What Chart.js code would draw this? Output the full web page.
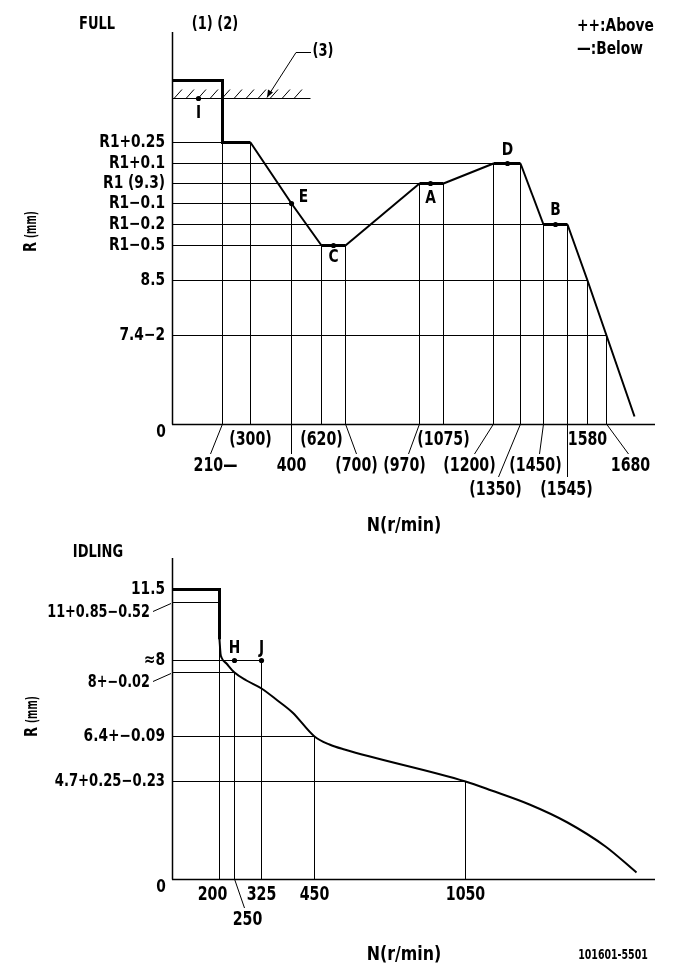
<!DOCTYPE html>
<html><head><meta charset="utf-8">
<script src="https://cdn.jsdelivr.net/npm/chart.js@4.4.0/dist/chart.umd.min.js"></script>
<style>
html,body{margin:0;padding:0;background:#fff;width:681px;height:979px;overflow:hidden}
canvas{position:absolute;left:0;top:0}
</style></head>
<body>
<canvas id="full" width="681" height="979"></canvas>
<canvas id="idle" width="681" height="979"></canvas>
<script>
// ---------------- DATA: FULL load ----------------
const FULL_N = [0, 210, 210, 300, 400, 620, 700, 970, 1075, 1200, 1350, 1450, 1545, 1580, 1680, 1750];
const FULL_R = [10.5, 10.5, 9.55, 9.55, 9.2, 8.8, 8.8, 9.3, 9.3, 9.4, 9.4, 9.1, 9.1, 8.5, 7.4, 0.6];
const FULL_X_TICKS = [210, 300, 400, 620, 700, 970, 1075, 1200, 1350, 1450, 1545, 1580, 1680];
const FULL_X_LABELS = ['210—', '(300)', '400', '(620)', '(700)', '(970)', '(1075)', '(1200)', '(1350)', '(1450)', '(1545)', '1580', '1680'];
const FULL_Y_TICKS = [9.55, 9.4, 9.3, 9.2, 9.1, 8.8, 8.5, 7.4];
const FULL_Y_LABELS = ['R1+0.25', 'R1+0.1', 'R1 (9.3)', 'R1−0.1', 'R1−0.2', 'R1−0.5', '8.5', '7.4−2'];
const FULL_LIMIT_R = 10.2;
const FULL_LIMIT_N = [0, 540];
const FULL_PT_NAMES = ['I', 'E', 'C', 'A', 'D', 'B'];
const FULL_PT_N = [110, 400, 660, 1020, 1278, 1499];
const FULL_PT_R = [10.2, 9.2, 8.8, 9.3, 9.4, 9.1];

// ---------------- DATA: IDLING ----------------
const IDLE_STEP_N = [0, 200, 200.5];
const IDLE_STEP_R = [11.5, 11.5, 9.2];
const IDLE_N = [200.5, 203, 208, 223, 250, 285, 325, 365, 400, 450, 510, 570, 1050, 1120, 1220, 1320, 1420, 1500];
const IDLE_R = [9.2, 8.5, 8.3, 8.15, 8.0, 7.8, 7.6, 7.3, 7.0, 6.4, 6.1, 5.9, 4.7, 4.25, 3.55, 2.7, 1.55, 0.3];
const IDLE_X_TICKS = [200, 250, 325, 450, 1050];
const IDLE_X_LABELS = ['200', '250', '325', '450', '1050'];
const IDLE_Y_TICKS = [11.5, 11, 8.2, 8.0, 6.4, 4.7];
const IDLE_Y_LABELS = ['11.5', '11+0.85−0.52', '≈8', '8+−0.02', '6.4+−0.09', '4.7+0.25−0.23'];
const IDLE_GUIDE_R = [11, 8.2, 8.0, 6.4, 4.7];
const IDLE_GUIDE_N = [200, 325, 250, 450, 1050];
const IDLE_PT_NAMES = ['H', 'J'];
const IDLE_PT_N = [250, 325];
const IDLE_PT_R = [8.2, 8.2];

// ---------------- LAYOUT (schematic axis stations, px along axis) ----------------
const KNOTS = {
  fullX: {span: 483, pts: [[0,0],[210,50],[300,78],[400,119],[620,149],[700,173],[970,247],[1075,271.5],[1200,321],[1350,348],[1450,371],[1545,395],[1580,415],[1680,434],[1800,483]]},
  fullY: {span: 392, pts: [[0,0],[7.4,89],[8.5,144],[8.8,178.3],[9.1,199.7],[9.2,220.7],[9.3,240.7],[9.4,260.7],[9.55,281.3],[10.2,325.7],[10.5,343.3],[11.3,392]]},
  idleX: {span: 483, pts: [[0,0],[200,47.6],[250,62],[325,89],[450,142],[1050,293],[1550,483]]},
  idleY: {span: 321, pts: [[0,0],[4.7,98],[6.4,142.3],[8.0,206.7],[8.2,219],[11,277],[11.5,289.7],[12.8,321]]}
};
const FULL_X_LAYOUT = [
  {row:2, dx:-7, lead:-12}, {row:1, dx:0}, {row:2, dx:0, lead:0}, {row:1, dx:0},
  {row:2, dx:11, lead:11}, {row:2, dx:-15, lead:-11}, {row:1, dx:0}, {row:2, dx:-24, lead:-19},
  {row:3, dx:-25, lead:-22}, {row:2, dx:-8, lead:-4}, {row:3, dx:-1, lead:0}, {row:1, dx:0}, {row:2, dx:24, lead:22}
];
const IDLE_X_LAYOUT = [{row:1, dx:-7}, {row:2, dx:13, lead:10}, {row:1, dx:0}, {row:1, dx:0}, {row:1, dx:0}];
const IDLE_Y_LAYOUT = [{}, {lead:true}, {}, {lead:true}, {}, {}];

// ---------------- piecewise schematic scale ----------------
class PiecewiseScale extends Chart.LinearScale {
  _frac(v) {
    const k = KNOTS[this.options.knotKey], p = k.pts;
    let i = 0;
    while (i < p.length - 2 && v > p[i+1][0]) i++;
    const [v0, a0] = p[i], [v1, a1] = p[i+1];
    return (a0 + (v - v0) / (v1 - v0) * (a1 - a0)) / k.span;
  }
  getPixelForValue(v) {
    if (v === null || v === undefined || isNaN(v)) return NaN;
    const f = this._frac(v);
    const p = this.isHorizontal() ? this.left + f * this.width : this.bottom - f * this.height;
    return Math.floor(p) + 0.5;
  }
  getValueForPixel(px) {
    const k = KNOTS[this.options.knotKey], p = k.pts;
    const f = (this.isHorizontal() ? (px - this.left) / this.width : (this.bottom - px) / this.height) * k.span;
    let i = 0;
    while (i < p.length - 2 && f > p[i+1][1]) i++;
    const [v0, a0] = p[i], [v1, a1] = p[i+1];
    return v0 + (f - a0) / (a1 - a0) * (v1 - v0);
  }
}
PiecewiseScale.id = 'piecewise';
PiecewiseScale.defaults = Chart.LinearScale.defaults;
Chart.register(PiecewiseScale);

// ---------------- helpers ----------------
const FONT = '"DejaVu Sans Condensed", "DejaVu Sans", sans-serif';
function txt(ctx, s, x, y, size, align, sx, weight) {
  ctx.save();
  ctx.font = (weight || 'bold') + ' ' + size + 'px ' + FONT;
  ctx.textBaseline = 'middle';
  ctx.textAlign = align || 'center';
  ctx.fillStyle = '#000';
  ctx.translate(x, y);
  ctx.scale(sx || 0.8, 1);
  ctx.fillText(s, 0, 0);
  ctx.restore();
}
function line(ctx, x1, y1, x2, y2, w) {
  ctx.save(); ctx.strokeStyle = '#000'; ctx.lineWidth = w || 1;
  ctx.beginPath(); ctx.moveTo(x1, y1); ctx.lineTo(x2, y2); ctx.stroke(); ctx.restore();
}
function segW(c) {
  const dx = Math.abs(c.p1.x - c.p0.x), dy = Math.abs(c.p1.y - c.p0.y);
  return (dx < 1.6 || dy < 1.6) ? 3 : 2;
}
function curveDs(ns, rs, extra) {
  return Object.assign({
    data: ns.map((n, i) => ({x: n, y: rs[i]})),
    borderColor: '#000', borderWidth: 2, pointRadius: 0, tension: 0,
    segment: {borderWidth: segW}, borderJoinStyle: 'miter', fill: false
  }, extra || {});
}
function guideDs(pts) {
  return {data: pts, borderColor: '#000', borderWidth: 1, pointRadius: 0, tension: 0, fill: false};
}
function markerDs(ns, rs) {
  return {data: ns.map((n, i) => ({x: n, y: rs[i]})), showLine: false, pointRadius: 2.6,
          pointBackgroundColor: '#000', pointBorderColor: '#000', pointBorderWidth: 0};
}
function axes(ctx, a) {
  line(ctx, a.left + 0.5, a.top, a.left + 0.5, a.bottom + 0.5, 1.5);
  line(ctx, a.left, a.bottom + 0.5, a.right, a.bottom + 0.5, 1.5);
}
function rLabel(ctx, cx, cy) {
  ctx.save(); ctx.translate(cx, cy); ctx.rotate(-Math.PI / 2);
  txt(ctx, 'R', -22, 0, 17, 'left', 0.85);
  txt(ctx, '(mm)', -8, 0, 16, 'left', 0.62);
  ctx.restore();
}
const YL = {size: 17, sx: 0.9};
const XL = {size: 19, sx: 0.83};

// ---------------- FULL chart ----------------
const fullDatasets = [curveDs(FULL_N, FULL_R), markerDs(FULL_PT_N, FULL_PT_R)];
FULL_X_TICKS.forEach(n => {
  const r = Math.min(...FULL_R.filter((v, i) => FULL_N[i] === n));
  fullDatasets.push(guideDs([{x: n, y: r}, {x: n, y: 0}]));
});
FULL_Y_TICKS.forEach(r => {
  let n = 0;
  FULL_R.forEach((v, i) => { if (Math.abs(v - r) < 1e-9) n = FULL_N[i]; });
  fullDatasets.push(guideDs([{x: 0, y: r}, {x: n, y: r}]));
});
fullDatasets.push(guideDs([{x: FULL_LIMIT_N[0], y: FULL_LIMIT_R}, {x: FULL_LIMIT_N[1], y: FULL_LIMIT_R}]));

const fullDeco = {
  id: 'fullDeco',
  afterDatasetsDraw(chart) {
    const ctx = chart.ctx, a = chart.chartArea, xs = chart.scales.x, ys = chart.scales.y;
    axes(ctx, a);
    const hy = ys.getPixelForValue(FULL_LIMIT_R), hx1 = xs.getPixelForValue(FULL_LIMIT_N[1]);
    for (let x = a.left + 2; x + 8 <= hx1 + 1; x += 12) line(ctx, x, hy, x + 8, hy - 9, 1);
    line(ctx, 311, 52.5, 296, 52.5, 1);
    line(ctx, 296, 52.5, 267, hy - 1, 1);
    ctx.save(); ctx.fillStyle = '#000'; ctx.beginPath();
    ctx.moveTo(267, hy - 1); ctx.lineTo(268, hy - 9); ctx.lineTo(273, hy - 6); ctx.closePath(); ctx.fill(); ctx.restore();
    txt(ctx, '(3)', 323, 52, 17, 'center', 0.85);
    FULL_Y_TICKS.forEach((r, i) => txt(ctx, FULL_Y_LABELS[i], a.left - 7, ys.getPixelForValue(r), YL.size, 'right', YL.sx));
    txt(ctx, '0', a.left - 11, a.bottom + 9, YL.size, 'center', YL.sx);
    const rowY = [0, a.bottom + 16, a.bottom + 42, a.bottom + 66];
    const leadY = [0, 0, a.bottom + 30, a.bottom + 53];
    FULL_X_TICKS.forEach((n, i) => {
      const L = FULL_X_LAYOUT[i], px = xs.getPixelForValue(n);
      if (L.lead !== undefined) line(ctx, px, a.bottom, px + L.lead, leadY[L.row], 1);
      txt(ctx, FULL_X_LABELS[i], px + L.dx, rowY[L.row], XL.size, 'center', XL.sx);
    });
    const off = {I: [0, 15], E: [12, -6], C: [0, 12], A: [0, 15], D: [0, -13], B: [0, -14]};
    FULL_PT_NAMES.forEach((nm, i) => {
      const o = off[nm];
      txt(ctx, nm, xs.getPixelForValue(FULL_PT_N[i]) + o[0], ys.getPixelForValue(FULL_PT_R[i]) + o[1], 18, 'center', 0.85);
    });
    txt(ctx, 'FULL', 97, 25, 17, 'center', 0.85);
    txt(ctx, '(1) (2)', 215, 25, 17, 'center', 0.85);
    txt(ctx, '++:Above', 577, 26, 18, 'left', 0.85);
    txt(ctx, '—:Below', 577, 49, 18, 'left', 0.85);
    txt(ctx, 'N(r/min)', 404, 526, 20, 'center', 0.88);
    rLabel(ctx, 32, 230);
  }
};

new Chart(document.getElementById('full'), {
  type: 'line',
  data: {datasets: fullDatasets},
  options: {
    responsive: false, animation: false, events: [],
    layout: {padding: {left: 172, right: 26, top: 32, bottom: 555}},
    scales: {
      x: {type: 'piecewise', knotKey: 'fullX', min: 0, max: 1800, display: false},
      y: {type: 'piecewise', knotKey: 'fullY', min: 0, max: 11.3, display: false}
    },
    plugins: {legend: {display: false}, tooltip: {enabled: false}}
  },
  plugins: [fullDeco]
});

// ---------------- IDLING chart ----------------
const idleDatasets = [
  curveDs(IDLE_STEP_N, IDLE_STEP_R, {borderWidth: 3, segment: {}}),
  curveDs(IDLE_N, IDLE_R, {cubicInterpolationMode: 'monotone', segment: {}}),
  markerDs(IDLE_PT_N, IDLE_PT_R)
];
IDLE_GUIDE_R.forEach((r, i) => {
  const n = IDLE_GUIDE_N[i];
  idleDatasets.push(guideDs([{x: 0, y: r}, {x: n, y: r}]));
  idleDatasets.push(guideDs([{x: n, y: r}, {x: n, y: 0}]));
});

const idleDeco = {
  id: 'idleDeco',
  afterDatasetsDraw(chart) {
    const ctx = chart.ctx, a = chart.chartArea, xs = chart.scales.x, ys = chart.scales.y;
    axes(ctx, a);
    IDLE_Y_TICKS.forEach((r, i) => {
      const py = ys.getPixelForValue(r);
      if (IDLE_Y_LAYOUT[i].lead) {
        line(ctx, a.left - 19, py + 9, a.left - 1, py + 1, 1);
        txt(ctx, IDLE_Y_LABELS[i], a.left - 22, py + 10, YL.size, 'right', 0.84);
      } else {
        txt(ctx, IDLE_Y_LABELS[i], a.left - 7, py, YL.size, 'right', i === 5 ? 0.86 : YL.sx);
      }
    });
    txt(ctx, '0', a.left - 11, a.bottom + 9, YL.size, 'center', YL.sx);
    const rowY = [0, a.bottom + 16, a.bottom + 41];
    IDLE_X_TICKS.forEach((n, i) => {
      const L = IDLE_X_LAYOUT[i], px = xs.getPixelForValue(n);
      if (L.lead !== undefined) line(ctx, px, a.bottom, px + L.lead, a.bottom + 29, 1);
      txt(ctx, IDLE_X_LABELS[i], px + L.dx, rowY[L.row], XL.size, 'center', XL.sx);
    });
    IDLE_PT_NAMES.forEach((nm, i) => {
      txt(ctx, nm, xs.getPixelForValue(IDLE_PT_N[i]), ys.getPixelForValue(IDLE_PT_R[i]) - 12, 18, 'center', 0.85);
    });
    txt(ctx, 'IDLING', 98, 553, 17, 'center', 0.85);
    txt(ctx, 'N(r/min)', 404, 955, 20, 'center', 0.88);
    txt(ctx, '101601-5501', 613, 955, 14, 'center', 0.75);
    rLabel(ctx, 33, 715);
  }
};

new Chart(document.getElementById('idle'), {
  type: 'line',
  data: {datasets: idleDatasets},
  options: {
    responsive: false, animation: false, events: [],
    layout: {padding: {left: 172, right: 26, top: 558, bottom: 100}},
    scales: {
      x: {type: 'piecewise', knotKey: 'idleX', min: 0, max: 1550, display: false},
      y: {type: 'piecewise', knotKey: 'idleY', min: 0, max: 12.8, display: false}
    },
    plugins: {legend: {display: false}, tooltip: {enabled: false}}
  },
  plugins: [idleDeco]
});
</script>
</body></html>
